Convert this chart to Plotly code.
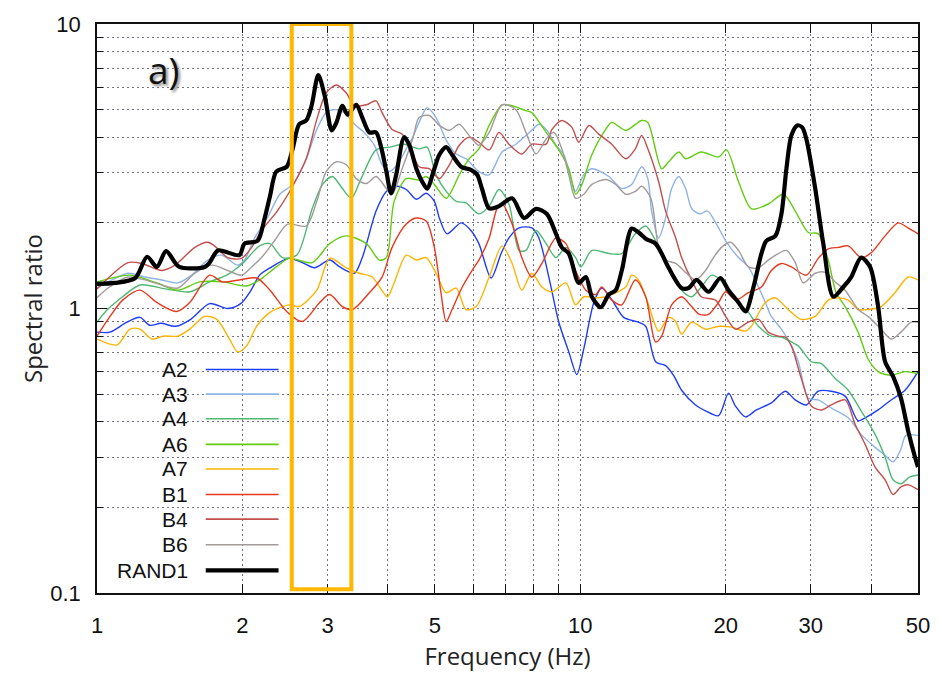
import plotly.graph_objects as go
import math

# ---------------- data (frequency Hz, spectral ratio) ----------------
A2 = [(1.0,0.826),(1.064,0.826),(1.153,0.895),(1.227,0.931),(1.286,0.873),(1.356,0.887),(1.456,0.866),
      (1.563,0.916),(1.711,1.04),(1.864,1.0),(1.983,1.04),(2.08,1.154),(2.17,1.31),(2.30,1.40),(2.49,1.50),
      (2.66,1.45),(2.82,1.39),(3.03,1.48),(3.18,1.40),(3.41,1.33),(3.54,1.51),(3.78,2.20),(3.97,2.58),
      (4.16,2.69),(4.365,2.62),(4.58,2.42),(4.80,2.54),(4.99,2.38),(5.11,2.08),(5.30,1.83),(5.67,2.0),
      (5.94,1.88),(6.17,1.69),(6.54,1.28),(6.86,1.56),(7.12,1.77),(7.47,1.92),(7.94,1.92),(8.21,1.77),
      (8.61,1.29),(9.03,0.895),(9.47,0.704),(9.84,0.586),(10.17,0.721),(10.67,1.05),(11.08,1.18),
      (11.62,1.074),(12.3,0.931),(13.2,0.895),(13.66,0.866),(14.32,0.65),(15.02,0.63),(15.6,0.582),
      (16.21,0.516),(17.32,0.458),(18.17,0.437),(19.33,0.42),(20.27,0.504),(20.95,0.454),(21.98,0.416),
      (23.15,0.44),(24.86,0.466),(26.57,0.512),(27.86,0.477),(29.37,0.458),(31.08,0.512),(33.06,0.512),
      (35.34,0.492),(37.59,0.403),(38.87,0.413),(41.35,0.44),(44.0,0.477),(47.0,0.516),(50.0,0.60)]

A3 = [(1.0,1.18),(1.074,1.26),(1.159,1.33),(1.256,1.29),(1.362,1.26),(1.47,1.23),(1.57,1.31),(1.695,1.48),
      (1.81,1.54),(1.955,1.42),(2.02,1.48),(2.12,1.77),(2.25,2.08),(2.39,2.52),(2.54,2.73),(2.71,3.36),
      (2.85,4.26),(2.98,4.88),(3.10,5.0),(3.25,4.88),(3.41,4.44),(3.57,4.16),(3.75,3.75),(3.89,3.20),
      (4.03,3.03),(4.18,3.20),(4.365,3.64),(4.50,4.0),(4.64,4.51),(4.82,5.08),(5.03,4.69),(5.28,3.91),
      (5.54,3.49),(5.80,3.36),(6.17,3.03),(6.48,2.95),(6.89,3.55),(7.36,3.78),(7.94,4.23),(8.21,4.44),
      (8.53,4.23),(8.91,3.75),(9.25,3.47),(9.56,2.86),(9.78,2.58),(10.17,2.95),(10.57,3.10),(11.46,2.91),
      (12.19,2.64),(12.78,2.73),(13.4,3.15),(13.8,2.86),(14.05,2.20),(14.53,1.77),(15.02,2.08),(15.46,2.64),
      (16.0,2.91),(16.52,2.64),(17.0,2.25),(17.66,2.15),(18.34,2.20),(19.14,1.98),(20.0,1.73),(21.26,1.51),
      (22.28,1.40),(23.38,1.19),(24.16,1.05),(24.86,0.938),(26.08,0.846),(27.35,0.739),(28.27,0.65),
      (29.65,0.484),(31.08,0.477),(33.06,0.447),(35.85,0.413),(38.13,0.361),(40.76,0.325),(42.75,0.305),
      (44.4,0.289),(46.0,0.318),(47.2,0.358),(50.0,0.358)]

A4 = [(1.0,0.895),(1.05,0.99),(1.13,1.10),(1.227,1.21),(1.395,1.17),(1.556,1.145),(1.711,1.24),(1.855,1.31),
      (2.0,1.44),(2.17,1.66),(2.28,1.69),(2.42,1.51),(2.59,1.54),(2.79,2.25),(2.93,2.73),(3.07,2.91),
      (3.22,2.64),(3.36,2.44),(3.52,2.86),(3.78,3.61),(4.03,3.69),(4.32,3.78),(4.64,3.64),(4.82,3.69),
      (5.03,2.95),(5.28,2.58),(5.54,2.38),(5.80,2.35),(6.17,2.15),(6.48,2.29),(6.79,2.62),(7.12,2.33),
      (7.47,1.60),(7.72,1.60),(8.10,1.88),(8.50,1.69),(8.91,1.51),(9.34,1.64),(9.78,1.51),(10.03,1.40),
      (10.57,1.60),(11.46,1.56),(12.19,1.56),(13.0,1.83),(13.66,1.95),(14.32,1.73),(15.02,1.44),(15.46,1.33),
      (16.21,1.16),(17.0,1.10),(17.8,1.19),(18.7,1.31),(19.5,1.26),(20.27,1.136),(21.26,1.05),(22.28,0.969),
      (23.38,0.866),(24.86,0.80),(26.08,0.794),(27.35,0.763),(28.27,0.739),(30.07,0.65),(31.54,0.64),
      (33.7,0.568),(35.85,0.516),(38.13,0.437),(40.76,0.361),(42.75,0.30),(44.4,0.25),(46.1,0.242),
      (48.1,0.256),(50.0,0.26)]

A6 = [(1.0,1.24),(1.17,1.31),(1.33,1.23),(1.47,1.16),(1.63,1.24),(1.82,1.24),(2.04,1.20),(2.17,1.26),
      (2.35,1.40),(2.50,1.50),(2.79,1.45),(3.03,1.69),(3.28,1.80),(3.61,1.69),(3.84,1.48),(3.97,1.51),
      (4.12,2.38),(4.365,2.86),(4.64,2.83),(4.80,2.91),(4.99,2.73),(5.28,2.44),(5.62,2.95),(5.89,3.36),
      (6.17,3.64),(6.48,4.40),(6.89,5.20),(7.23,5.16),(7.72,4.96),(7.94,4.88),(8.50,4.16),(9.03,3.61),
      (9.47,3.10),(9.79,2.52),(10.08,2.73),(10.57,3.47),(11.29,4.26),(11.62,4.51),(12.42,4.23),(13.4,4.58),
      (13.8,4.51),(14.74,3.10),(15.24,3.28),(16.0,3.55),(16.52,3.36),(17.8,3.55),(19.33,3.41),(20.08,3.61),
      (21.26,2.79),(22.62,2.24),(24.5,2.33),(26.33,2.52),(27.86,2.20),(29.65,1.85),(31.08,1.83),(32.6,1.48),
      (33.86,1.136),(35.34,1.016),(37.59,0.826),(39.4,0.666),(41.35,0.60),(44.0,0.582),(47.0,0.60),(50.0,0.59)]

A7 = [(1.0,0.781),(1.10,0.745),(1.17,0.846),(1.227,0.846),(1.30,0.781),(1.37,0.80),(1.47,0.80),(1.556,0.846),
      (1.67,0.938),(1.77,0.916),(1.88,0.781),(1.955,0.704),(2.04,0.739),(2.14,0.866),(2.28,0.969),(2.50,1.03),
      (2.62,1.016),(2.85,1.16),(3.03,1.50),(3.28,1.39),(3.49,1.33),(3.71,1.29),(3.99,1.10),(4.12,1.23),
      (4.365,1.54),(4.58,1.48),(4.80,1.51),(5.03,1.33),(5.28,1.136),(5.54,1.18),(5.80,0.992),(6.09,1.016),
      (6.48,1.29),(6.89,1.66),(7.23,1.44),(7.57,1.16),(7.94,1.33),(8.33,1.19),(8.74,1.145),(9.34,1.23),
      (9.78,1.03),(10.17,1.10),(10.77,1.09),(11.29,1.10),(11.84,1.136),(12.42,1.19),(12.78,1.31),(13.2,1.26),
      (13.8,1.05),(14.53,0.833),(15.24,0.93),(15.76,0.90),(16.21,0.813),(17.0,0.895),(18.17,0.846),
      (19.33,0.866),(20.56,0.86),(21.98,0.833),(22.6,0.866),(24.16,1.05),(25.34,1.09),(26.57,1.016),
      (27.35,0.969),(28.67,0.916),(30.64,0.938),(32.6,1.07),(34.2,1.09),(35.85,1.07),(37.59,0.992),
      (39.4,0.992),(41.95,1.016),(44.8,1.136),(47.7,1.29),(50.0,1.26)]

B1 = [(1.0,0.80),(1.064,0.938),(1.13,1.07),(1.227,1.16),(1.33,1.05),(1.46,0.976),(1.556,1.05),(1.711,1.31),
      (1.82,1.24),(1.97,1.26),(2.14,1.28),(2.28,1.16),(2.47,0.976),(2.66,0.90),(2.89,1.05),(3.03,1.12),
      (3.22,1.016),(3.38,0.992),(3.66,1.136),(3.89,1.29),(4.08,1.64),(4.365,1.98),(4.58,2.08),(4.80,2.03),
      (4.99,1.64),(5.15,1.136),(5.28,0.90),(5.43,0.992),(5.70,1.19),(5.97,1.36),(6.17,1.48),(6.48,1.77),
      (6.73,2.25),(6.89,2.34),(7.23,1.98),(7.57,1.51),(7.94,1.29),(8.33,1.44),(8.91,1.77),(9.34,1.69),
      (9.78,1.36),(10.27,1.16),(10.77,1.12),(11.08,1.19),(11.62,1.07),(12.19,1.03),(13.0,1.26),(13.66,1.10),
      (14.32,0.763),(14.74,0.80),(15.46,1.03),(16.21,1.10),(17.0,1.016),(17.66,0.953),(18.43,0.953),
      (19.33,1.05),(20.0,1.145),(20.95,1.07),(22.28,1.136),(23.71,1.19),(24.86,1.36),(26.08,1.44),
      (27.35,1.40),(29.37,1.31),(31.08,1.50),(32.6,1.62),(34.2,1.64),(35.85,1.66),(38.13,1.51),(40.0,1.57),
      (42.75,1.80),(45.5,2.0),(47.7,1.92),(50.0,1.83)]

B4 = [(1.0,1.17),(1.159,1.45),(1.239,1.44),(1.362,1.36),(1.45,1.42),(1.594,1.64),(1.695,1.71),(1.75,1.66),
      (1.864,1.51),(1.99,1.50),(2.09,1.64),(2.19,1.88),(2.36,2.20),(2.54,2.69),(2.71,3.36),(2.85,4.62),
      (2.98,5.72),(3.13,6.10),(3.28,5.72),(3.41,5.16),(3.61,5.20),(3.78,5.37),(3.89,4.88),(4.08,4.26),
      (4.28,4.10),(4.43,3.75),(4.64,3.15),(4.87,3.10),(5.11,2.86),(5.36,3.20),(5.62,3.75),(5.89,4.0),
      (6.17,3.84),(6.48,3.61),(6.79,4.16),(7.12,3.78),(7.57,3.49),(7.94,3.78),(8.50,3.78),(8.74,4.26),
      (9.16,4.58),(9.61,4.33),(9.93,3.84),(10.42,4.40),(10.92,4.10),(11.62,3.78),(12.42,3.36),(13.0,3.64),
      (13.4,4.06),(13.8,3.64),(14.53,2.79),(15.02,2.20),(15.76,1.77),(16.21,1.51),(17.0,1.26),(17.8,1.10),
      (19.05,1.07),(20.0,0.938),(20.95,0.846),(22.28,0.895),(23.38,0.916),(24.5,0.826),(25.7,0.80),
      (26.57,0.794),(27.35,0.739),(28.67,0.568),(30.07,0.454),(31.54,0.44),(33.06,0.458),(35.34,0.477),
      (37.07,0.391),(38.87,0.333),(40.76,0.277),(42.75,0.25),(44.4,0.222),(46.1,0.236),(47.7,0.24),(50.0,0.231)]

B6 = [(1.0,1.09),(1.054,1.18),(1.159,1.29),(1.256,1.26),(1.362,1.21),(1.47,1.18),(1.594,1.33),(1.73,1.42),
      (1.864,1.36),(1.99,1.31),(2.09,1.40),(2.19,1.51),(2.33,1.73),(2.48,1.98),(2.71,1.95),(2.85,2.38),
      (2.98,3.03),(3.13,3.28),(3.28,3.20),(3.44,2.86),(3.61,2.75),(3.78,2.91),(3.97,2.64),(4.08,2.52),
      (4.28,3.10),(4.50,3.94),(4.64,4.69),(4.87,4.77),(5.11,4.40),(5.36,4.23),(5.62,4.44),(5.89,4.06),
      (6.17,3.75),(6.48,4.16),(6.89,5.20),(7.36,5.0),(7.72,4.16),(8.10,3.49),(8.50,3.94),(8.82,4.16),
      (9.16,3.64),(9.47,2.95),(9.78,2.44),(10.17,2.52),(10.57,2.73),(11.29,2.84),(11.84,2.73),(12.42,2.52),
      (13.0,2.58),(13.4,2.69),(14.0,2.44),(14.53,1.64),(15.02,1.48),(15.76,1.44),(16.52,1.34),(17.32,1.26),
      (18.17,1.36),(18.87,1.51),(19.6,1.64),(20.46,1.71),(21.26,1.60),(22.28,1.40),(23.38,1.39),(24.5,1.48),
      (25.7,1.56),(26.71,1.60),(27.86,1.45),(28.94,1.23),(30.64,1.33),(32.14,1.34),(33.7,1.24),(35.34,1.16),
      (37.59,0.992),(39.4,0.938),(41.95,0.846),(44.0,0.781),(46.1,0.826),(48.4,0.895),(50.0,0.895)]

RAND1 = [(1.0,1.22),(1.09,1.23),(1.2,1.28),(1.27,1.52),(1.33,1.40),(1.39,1.59),(1.48,1.40),(1.67,1.40),
         (1.71,1.45),(1.78,1.60),(1.97,1.54),(2.02,1.69),(2.15,1.73),(2.22,2.06),(2.28,2.48),(2.35,3.03),
         (2.47,3.15),(2.54,3.64),(2.62,4.44),(2.71,4.58),(2.78,5.16),(2.87,6.61),(2.96,5.59),(3.06,4.23),
         (3.13,4.51),(3.22,5.16),(3.30,4.80),(3.44,5.20),(3.54,4.69),(3.66,4.16),(3.78,4.16),(3.88,3.64),
         (3.97,3.03),(4.06,2.54),(4.16,2.95),(4.32,4.00),(4.43,3.75),(4.58,3.10),(4.71,2.79),(4.82,2.64),
         (4.99,3.10),(5.11,3.47),(5.28,3.69),(5.43,3.47),(5.67,3.15),(5.94,3.07),(6.12,2.95),(6.26,2.64),
         (6.48,2.25),(6.79,2.29),(7.23,2.44),(7.65,2.08),(8.10,2.24),(8.53,2.15),(8.91,1.83),(9.16,1.64),
         (9.47,1.56),(9.93,1.23),(10.27,1.29),(10.57,1.10),(11.03,1.01),(11.46,1.12),(11.84,1.16),(12.19,1.36),
         (12.78,1.91),(13.21,1.85),(13.66,1.76),(14.32,1.69),(14.74,1.56),(15.24,1.39),(16.21,1.18),(16.76,1.18),
         (17.41,1.26),(18.43,1.145),(19.5,1.28),(20.27,1.16),(21.26,1.05),(21.98,0.976),(22.83,1.19),
         (23.71,1.56),(24.27,1.73),(25.34,1.80),(26.08,2.15),(26.71,3.10),(27.35,4.06),(28.13,4.40),
         (28.8,4.33),(29.37,3.94),(30.64,2.64),(31.84,1.69),(33.39,1.10),(35.02,1.19),(36.37,1.29),
         (38.13,1.51),(39.8,1.40),(41.35,1.016),(42.75,0.65),(44.4,0.577),(46.1,0.484),(47.7,0.372),
         (49.3,0.30),(50.0,0.277)]

SERIES = ["A2", "A3", "A4", "A6", "A7", "B1", "B4", "B6", "RAND1"]
SERIES_DATA = [A2, A3, A4, A6, A7, B1, B4, B6, RAND1]
BAND = (2.53, 3.36)          # highlighted frequency band (Hz)
X_TICKS = [1, 2, 3, 5, 10, 20, 30, 50]
X_MINOR = [4, 6, 7, 8, 9, 40]
Y_TICKS = [0.1, 1, 10]
Y_MINOR = [0.2, 0.3, 0.4, 0.5, 0.6, 0.7, 0.8, 0.9, 2, 3, 4, 5, 6, 7, 8, 9]

# ---------------- styles ----------------
COLORS = {"A2": "#1f3cf5", "A3": "#8fb3e6", "A4": "#4fb874", "A6": "#62cc12", "A7": "#ffb300",
          "B1": "#e5391f", "B4": "#c24f4c", "B6": "#a39a9a", "RAND1": "#000000"}
WIDTHS = {k: 1.4 for k in COLORS}
WIDTHS["RAND1"] = 4.2

W, H = 942, 678
L, R, T, B = 97, 22, 20, 80
PW, PH = W - L - R, H - T - B

def px(x):
    return (x - L) / PW

def py(y):
    return (H - B - y) / PH

fig = go.Figure()
for name, data in zip(SERIES, SERIES_DATA):
    fig.add_trace(go.Scatter(
        x=[d[0] for d in data], y=[d[1] for d in data], mode="lines", name=name,
        line=dict(color=COLORS[name], width=WIDTHS[name], shape="spline", smoothing=0.8),
        showlegend=False))

SANS = "Liberation Sans, Arial"
tickfont = dict(family=SANS, size=22, color="#111")
gridc = "#74748a"
gdash = "2px,3px"

fig.update_xaxes(
    type="log", range=[0, math.log10(50)],
    tickmode="array", tickvals=X_TICKS, ticktext=[str(v) for v in X_TICKS],
    ticks="inside", ticklen=9, tickwidth=1.3, tickcolor="#111",
    showgrid=True, gridcolor=gridc, griddash=gdash, gridwidth=1,
    minor=dict(tickmode="array", tickvals=X_MINOR, ticks="inside", ticklen=9, tickcolor="#111",
               showgrid=True, gridcolor=gridc, griddash=gdash, gridwidth=1),
    showline=True, linecolor="#111", linewidth=1.5, mirror="allticks",
    tickfont=tickfont, ticklabelstandoff=12, zeroline=False,
    title=dict(text="Frequency (Hz)", font=dict(family="Open Sans", size=24, color="#222"), standoff=11),
)
fig.update_yaxes(
    type="log", range=[-1, 1],
    tickmode="array", tickvals=Y_TICKS, ticktext=["0.1", "1", "10"],
    ticks="inside", ticklen=10, tickwidth=1.3, tickcolor="#111",
    showgrid=True, gridcolor=gridc, griddash=gdash, gridwidth=1,
    minor=dict(tickmode="array", tickvals=Y_MINOR, ticks="inside", ticklen=6, tickcolor="#111",
               showgrid=True, gridcolor=gridc, griddash=gdash, gridwidth=1),
    showline=True, linecolor="#111", linewidth=1.5, mirror="allticks",
    tickfont=tickfont, ticklabelstandoff=10, zeroline=False,
    title=dict(text="Spectral ratio", font=dict(family="Open Sans", size=24, color="#222"), standoff=1),
)

shapes = []
# white patches hiding the grid behind the panel label and the legend
shapes.append(dict(type="rect", xref="paper", yref="paper", x0=px(122), x1=px(203), y0=py(96), y1=py(21),
                   fillcolor="white", line=dict(width=0), layer="between"))
shapes.append(dict(type="rect", xref="paper", yref="paper", x0=px(103), x1=px(287), y0=py(591), y1=py(356),
                   fillcolor="white", line=dict(width=0), layer="between"))
# highlighted frequency band
shapes.append(dict(type="rect", xref="x", yref="y", x0=BAND[0], x1=BAND[1], y0=0.103, y1=10,
                   line=dict(color="#ffb700", width=4), fillcolor="rgba(0,0,0,0)", layer="above"))

annotations = []
legend_y = [371, 396, 421, 447, 472, 498, 523, 549, 575]
for name, yy in zip(SERIES, legend_y):
    annotations.append(dict(xref="paper", yref="paper", x=px(190), y=py(yy), text=name, showarrow=False,
                            xanchor="right", yanchor="middle",
                            font=dict(family=SANS, size=21, color="#111")))
    shapes.append(dict(type="line", xref="paper", yref="paper", x0=px(206), x1=px(279), y0=py(yy), y1=py(yy),
                       line=dict(color=COLORS[name], width=1.6 if name != "RAND1" else 4.2), layer="above"))

annotations.append(dict(xref="paper", yref="paper", x=px(164), y=py(66), text="a)", showarrow=False,
                        xanchor="center", yanchor="middle",
                        font=dict(family="Open Sans", size=37, color="#111", shadow="2px 2px 3px #888")))

fig.update_layout(
    width=W, height=H, margin=dict(l=L, r=R, t=T, b=B),
    paper_bgcolor="white", plot_bgcolor="white",
    shapes=shapes, annotations=annotations, showlegend=False,
)

fig.write_html("out.html")
